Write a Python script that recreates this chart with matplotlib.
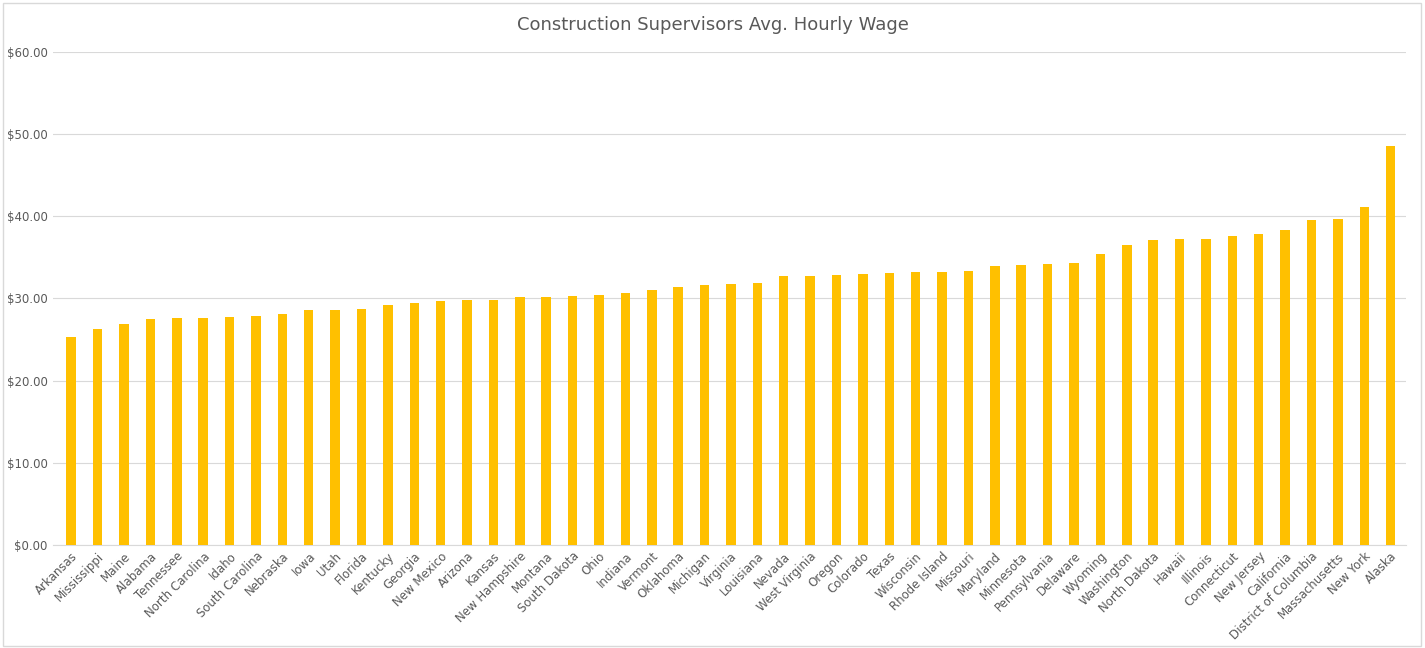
import matplotlib.pyplot as plt
import matplotlib.patches as mpatches
from matplotlib.ticker import FuncFormatter

states = ["Arkansas", "Mississippi", "Maine", "Alabama", "Tennessee", "North Carolina", "Idaho",
          "South Carolina", "Nebraska", "Iowa", "Utah", "Florida", "Kentucky", "Georgia",
          "New Mexico", "Arizona", "Kansas", "New Hampshire", "Montana", "South Dakota", "Ohio",
          "Indiana", "Vermont", "Oklahoma", "Michigan", "Virginia", "Louisiana", "Nevada",
          "West Virginia", "Oregon", "Colorado", "Texas", "Wisconsin", "Rhode Island", "Missouri",
          "Maryland", "Minnesota", "Pennsylvania", "Delaware", "Wyoming", "Washington",
          "North Dakota", "Hawaii", "Illinois", "Connecticut", "New Jersey", "California",
          "District of Columbia", "Massachusetts", "New York", "Alaska"]
wages = [25.3, 26.3, 26.9, 27.5, 27.6, 27.6, 27.7, 27.9, 28.1, 28.6, 28.6, 28.7, 29.2, 29.4,
         29.7, 29.8, 29.8, 30.2, 30.2, 30.3, 30.4, 30.7, 31.0, 31.4, 31.6, 31.8, 31.9, 32.7,
         32.7, 32.8, 33.0, 33.1, 33.2, 33.2, 33.3, 33.9, 34.1, 34.2, 34.3, 35.4, 36.5,
         37.1, 37.2, 37.2, 37.6, 37.8, 38.3, 39.5, 39.7, 41.1, 48.5]

fig = plt.figure(figsize=(14.25, 6.48), dpi=100)
fig.patches.append(mpatches.Rectangle((0.002, 0.003), 0.995, 0.993, transform=fig.transFigure,
                                      fill=False, edgecolor="#d9d9d9", linewidth=1))
ax = fig.add_axes([0.037, 0.159, 0.950, 0.761])

x = range(len(states))
ax.bar(x, wages, width=0.36, color="#FFC000", zorder=3)
ax.set_xlim(-0.7, len(states) - 0.4)
ax.set_ylim(0, 60)
ax.set_yticks(range(0, 61, 10))
ax.yaxis.set_major_formatter(FuncFormatter(lambda v, p: f"${v:.2f}"))
ax.grid(axis="y", color="#d9d9d9", linewidth=0.8, zorder=0)
ax.set_xticks(list(x))
ax.set_xticklabels(states, rotation=45, ha="right", rotation_mode="anchor", fontsize=8.5, color="#595959")
ax.tick_params(axis="y", labelsize=8.5, labelcolor="#595959", length=0)
ax.tick_params(axis="x", length=0)
for s in ["top", "right", "left"]:
    ax.spines[s].set_visible(False)
ax.spines["bottom"].set_color("#d9d9d9")

fig.suptitle("Construction Supervisors Avg. Hourly Wage", y=0.975, fontsize=13, color="#595959")
fig.savefig("out.png", dpi=100)
